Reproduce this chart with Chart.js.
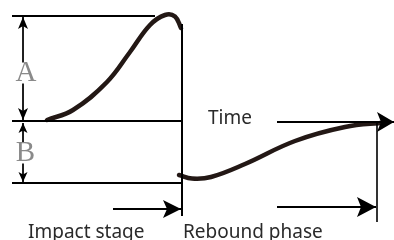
<!DOCTYPE html>
<html>
<head>
<meta charset="utf-8">
<script src="https://cdn.jsdelivr.net/npm/chart.js@4/dist/chart.umd.min.js"></script>
<style>
  html, body { margin: 0; padding: 0; background: #ffffff; }
  #wrap { width: 394px; height: 240px; }
</style>
</head>
<body>
<div id="wrap"><canvas id="c" width="394" height="240"></canvas></div>
<script>
// ---- data (x = time units, y = displacement units, y axis drawn downward) ----
const impactCurveX  = [47, 73, 107, 130, 150, 165, 175, 181];
const impactCurveY  = [120, 110, 82, 52, 25, 15, 16.5, 28];
const reboundCurveX = [179, 192, 211, 245, 295, 345, 385];
const reboundCurveY = [175, 178.5, 177, 164, 141, 127, 122.5];

// reference levels and guides
const levelTopX    = [12, 155];  const levelTopY    = [16, 16];
const levelBaseX   = [12, 182];  const levelBaseY   = [121, 121];
const levelBottomX = [12, 182];  const levelBottomY = [183, 183];
const impactEndX   = [182, 182]; const impactEndY   = [24, 216];
const reboundEndX  = [377, 377]; const reboundEndY  = [122, 222];
const timeArrowX   = [277, 394]; const timeArrowY   = [122, 122];
const impactArrowX = [113, 181]; const impactArrowY = [209, 209];
const reboundArrowX= [277, 376]; const reboundArrowY= [207, 207];
const dimAX        = [23, 23];   const dimAY        = [17, 120];
const dimBX        = [23, 23];   const dimBY        = [123, 182];

// text
const stageLabels     = ['Impact stage', 'Rebound phase'];
const axisLabel       = 'Time';
const amplitudeLabels = ['A', 'B'];

function pts(xs, ys) { return xs.map((x, i) => ({ x: x, y: ys[i] })); }

function lineSet(xs, ys, extra) {
  return Object.assign({
    data: pts(xs, ys),
    showLine: true,
    borderColor: '#000000',
    borderWidth: 2,
    pointRadius: 0,
    pointHoverRadius: 0,
    tension: 0,
    fill: false,
    clip: false
  }, extra || {});
}

const curveStyle = { borderColor: '#231815', borderWidth: 4.5, tension: 0.4, borderCapStyle: 'round', borderJoinStyle: 'round' };

const datasets = [
  lineSet(levelTopX, levelTopY),
  lineSet(levelBaseX, levelBaseY),
  lineSet(levelBottomX, levelBottomY),
  lineSet(impactEndX, impactEndY),
  lineSet(reboundEndX, reboundEndY, { borderWidth: 1.6 }),
  lineSet(timeArrowX, timeArrowY, { arrowEnd: { len: 17, half: 10, notch: 4 } }),
  lineSet(impactArrowX, impactArrowY, { arrowEnd: { len: 18, half: 9, notch: 4 } }),
  lineSet(reboundArrowX, reboundArrowY, { arrowEnd: { len: 19, half: 10, notch: 4 } }),
  lineSet(dimAX, dimAY, { borderWidth: 1, arrowEnd: { len: 12, half: 5, notch: 3 }, arrowStart: { len: 12, half: 5, notch: 3 } }),
  lineSet(dimBX, dimBY, { borderWidth: 1, arrowEnd: { len: 10, half: 4.5, notch: 2.5 }, arrowStart: { len: 10, half: 4.5, notch: 2.5 } }),
  lineSet(impactCurveX, impactCurveY, curveStyle),
  lineSet(reboundCurveX, reboundCurveY, curveStyle)
];

function drawHead(ctx, tip, from, spec, color) {
  const ang = Math.atan2(tip.y - from.y, tip.x - from.x);
  ctx.save();
  ctx.translate(tip.x, tip.y);
  ctx.rotate(ang);
  ctx.beginPath();
  ctx.moveTo(0, 0);
  ctx.lineTo(-spec.len, -spec.half);
  ctx.lineTo(-spec.len + spec.notch, 0);
  ctx.lineTo(-spec.len, spec.half);
  ctx.closePath();
  ctx.fillStyle = color;
  ctx.fill();
  ctx.restore();
}

const arrowPlugin = {
  id: 'arrowheads',
  afterDatasetsDraw(chart) {
    const ctx = chart.ctx;
    chart.data.datasets.forEach((ds, i) => {
      const meta = chart.getDatasetMeta(i);
      const p = meta.data;
      if (!p || p.length < 2) return;
      if (ds.arrowEnd) drawHead(ctx, p[p.length - 1], p[p.length - 2], ds.arrowEnd, ds.borderColor);
      if (ds.arrowStart) drawHead(ctx, p[0], p[1], ds.arrowStart, ds.borderColor);
    });
  }
};

const textPlugin = {
  id: 'texts',
  afterDatasetsDraw(chart, args, opts) {
    const ctx = chart.ctx;
    const xs = chart.scales.x, ys = chart.scales.y;
    opts.items.forEach(it => {
      const px = xs.getPixelForValue(it.x);
      const py = ys.getPixelForValue(it.y);
      ctx.save();
      ctx.font = it.font;
      ctx.textAlign = it.align || 'left';
      ctx.textBaseline = it.baseline || 'alphabetic';
      if (it.bg) {
        const w = ctx.measureText(it.text).width;
        ctx.fillStyle = it.bg;
        ctx.fillRect(px - w / 2 - 1, py - it.bgH / 2, w + 2, it.bgH);
      }
      ctx.fillStyle = it.color;
      ctx.fillText(it.text, px, py);
      ctx.restore();
    });
  }
};

new Chart(document.getElementById('c'), {
  type: 'line',
  data: { datasets: datasets },
  plugins: [arrowPlugin, textPlugin],
  options: {
    responsive: false,
    animation: false,
    devicePixelRatio: 1,
    layout: { padding: 0 },
    events: [],
    scales: {
      x: { type: 'linear', min: 0, max: 394, display: false },
      y: { type: 'linear', min: 0, max: 240, reverse: true, display: false }
    },
    plugins: {
      legend: { display: false },
      tooltip: { enabled: false },
      texts: {
        items: [
          { text: stageLabels[0], x: 28, y: 238, font: '19px "Noto Sans"', color: '#2a2a2a' },
          { text: stageLabels[1], x: 183, y: 238, font: '19px "Noto Sans"', color: '#2a2a2a' },
          { text: axisLabel, x: 208, y: 124, font: '19px "Noto Sans"', color: '#2a2a2a' },
          { text: amplitudeLabels[0], x: 26, y: 73, font: '29px "Liberation Serif"', color: '#8a8a8a', align: 'center', baseline: 'middle', bg: '#ffffff', bgH: 21 },
          { text: amplitudeLabels[1], x: 25.5, y: 153, font: '29px "Liberation Serif"', color: '#8a8a8a', align: 'center', baseline: 'middle', bg: '#ffffff', bgH: 21 }
        ]
      }
    }
  }
});
</script>
</body>
</html>
